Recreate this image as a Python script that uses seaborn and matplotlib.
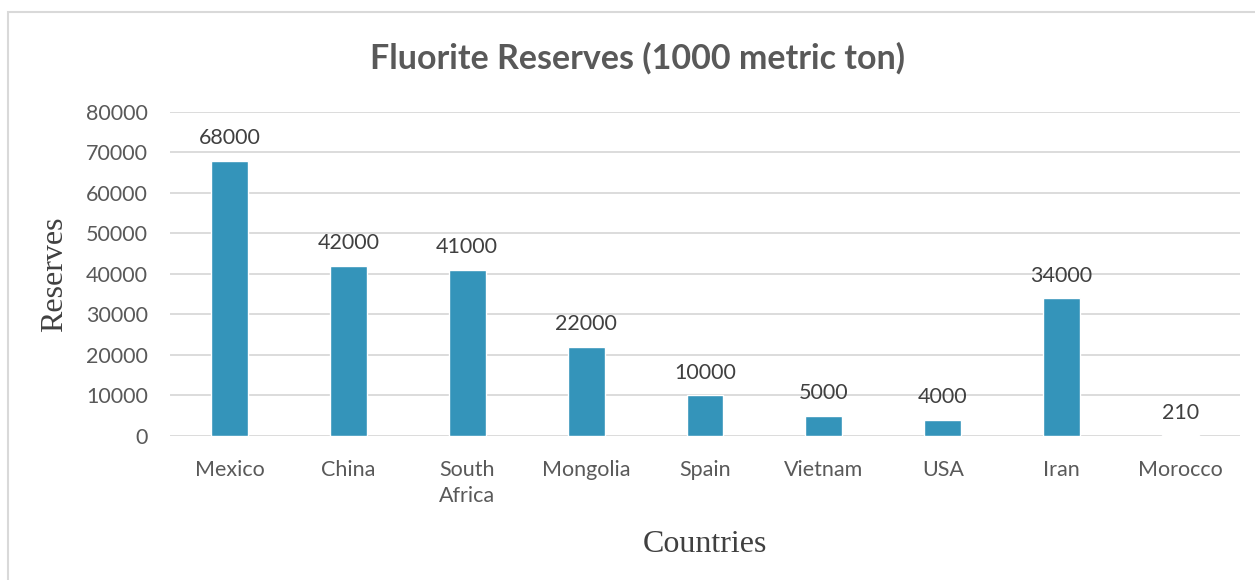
import matplotlib
matplotlib.use("Agg")
import matplotlib.pyplot as plt
from matplotlib.patches import Rectangle
import pandas as pd
import seaborn as sns

countries = ["Mexico", "China", "South\nAfrica", "Mongolia", "Spain",
             "Vietnam", "USA", "Iran", "Morocco"]
reserves = [68000, 42000, 41000, 22000, 10000, 5000, 4000, 34000, 210]
yticks = [0, 10000, 20000, 30000, 40000, 50000, 60000, 70000, 80000]

sns.set_theme(style="white")
plt.rcParams['font.family'] = ['Lato', 'DejaVu Sans']

df = pd.DataFrame({"country": countries, "reserves": reserves})

fig = plt.figure(figsize=(12.55, 5.8), dpi=100)
ax = fig.add_axes([0.1355, 0.2483, 0.8525, 0.5586])

sns.barplot(data=df, x="country", y="reserves", color="#3494BA",
            saturation=1, width=0.31, ax=ax)

ax.set_ylim(0, 80000)
ax.set_yticks(yticks)
ax.set_yticklabels([str(v) for v in yticks], fontsize=15.5, color="#595959")
ax.set_xlim(-0.5, len(countries) - 0.5)
ax.tick_params(axis="x", labelsize=15.5, colors="#595959", length=0, pad=17)
ax.tick_params(axis="y", length=0, pad=16)
for lab in ax.get_xticklabels():
    lab.set_linespacing(1.4)

ax.yaxis.grid(True, color="#D9D9D9", linewidth=1.3)
ax.set_axisbelow(True)
for s in ax.spines.values():
    s.set_visible(False)

ax.bar_label(ax.containers[0], labels=[str(v) for v in reserves],
             padding=9, fontsize=15.5, color="#404040")

ax.set_ylabel("Reserves", family="Liberation Serif", fontsize=23,
              color="#404040", labelpad=12)
ax.set_xlabel("Countries", family="Liberation Serif", fontsize=23,
              color="#404040", labelpad=17)

fig.text(0.508, 0.90, "Fluorite Reserves (1000 metric ton)", ha="center",
         va="center", fontsize=24.5, fontweight="bold", color="#595959")

fig.patches.append(Rectangle((8 / 1255, -0.05), 1260 / 1255, 1.0 - 12 / 580 + 0.05,
                             transform=fig.transFigure, fill=False,
                             edgecolor="#D9D9D9", linewidth=1.5))

fig.savefig("out.png", dpi=100)
